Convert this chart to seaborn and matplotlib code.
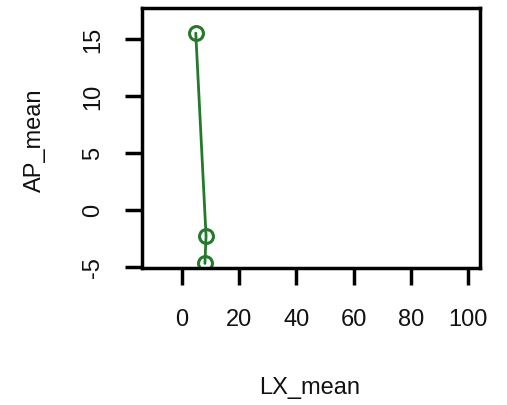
import matplotlib
matplotlib.use("Agg")
import matplotlib.pyplot as plt
import seaborn as sns
import pandas as pd

lx_mean = [4.8, 8.4, 8.0]
ap_mean = [15.5, -2.3, -4.7]
x_ticks = [0, 20, 40, 60, 80, 100]
y_ticks = [-5, 0, 5, 10, 15]

df = pd.DataFrame({"LX_mean": lx_mean, "AP_mean": ap_mean})

sns.set_style("white")
plt.rcParams['font.family'] = ['Liberation Sans', 'DejaVu Sans']

fig = plt.figure(figsize=(5.07, 4.06), dpi=100)
W, H = 507, 406
ax = fig.add_axes([142 / W, 1 - 269 / H, (480 - 142) / W, (269 - 9) / H])

green = "#237a2c"
sns.lineplot(data=df, x="LX_mean", y="AP_mean", sort=False, ax=ax, color=green,
             linewidth=2.0, marker="o", markersize=10, markerfacecolor="none",
             markeredgecolor=green, markeredgewidth=2.2, clip_on=True)

ax.set_xlim(-14.0, 104.2)
ax.set_ylim(-5.1, 17.7)
ax.set_xticks(x_ticks)
ax.set_yticks(y_ticks)
ax.set_xticklabels([str(v) for v in x_ticks], fontsize=17)
ax.set_yticklabels([str(v) for v in y_ticks], fontsize=17, rotation=90, va="center")

for s in ax.spines.values():
    s.set_visible(True)
    s.set_color("black")
    s.set_linewidth(2.5)

ax.tick_params(axis="both", which="major", direction="out", length=12, width=2.5,
               color="black", bottom=True, left=True, labelcolor="#111111")
ax.tick_params(axis="x", pad=17)
ax.tick_params(axis="y", pad=15)

ax.set_xlabel("LX_mean", fontsize=17, color="#111111")
ax.set_ylabel("AP_mean", fontsize=17, color="#111111")
ax.xaxis.set_label_coords((310 - 142) / 338, (269 - 388) / 260)
ax.xaxis.label.set_va("center")
ax.yaxis.set_label_coords((35 - 142) / 338, (269 - 140) / 260)
ax.yaxis.label.set_va("center")

fig.savefig("out.png", dpi=100, facecolor="white")
